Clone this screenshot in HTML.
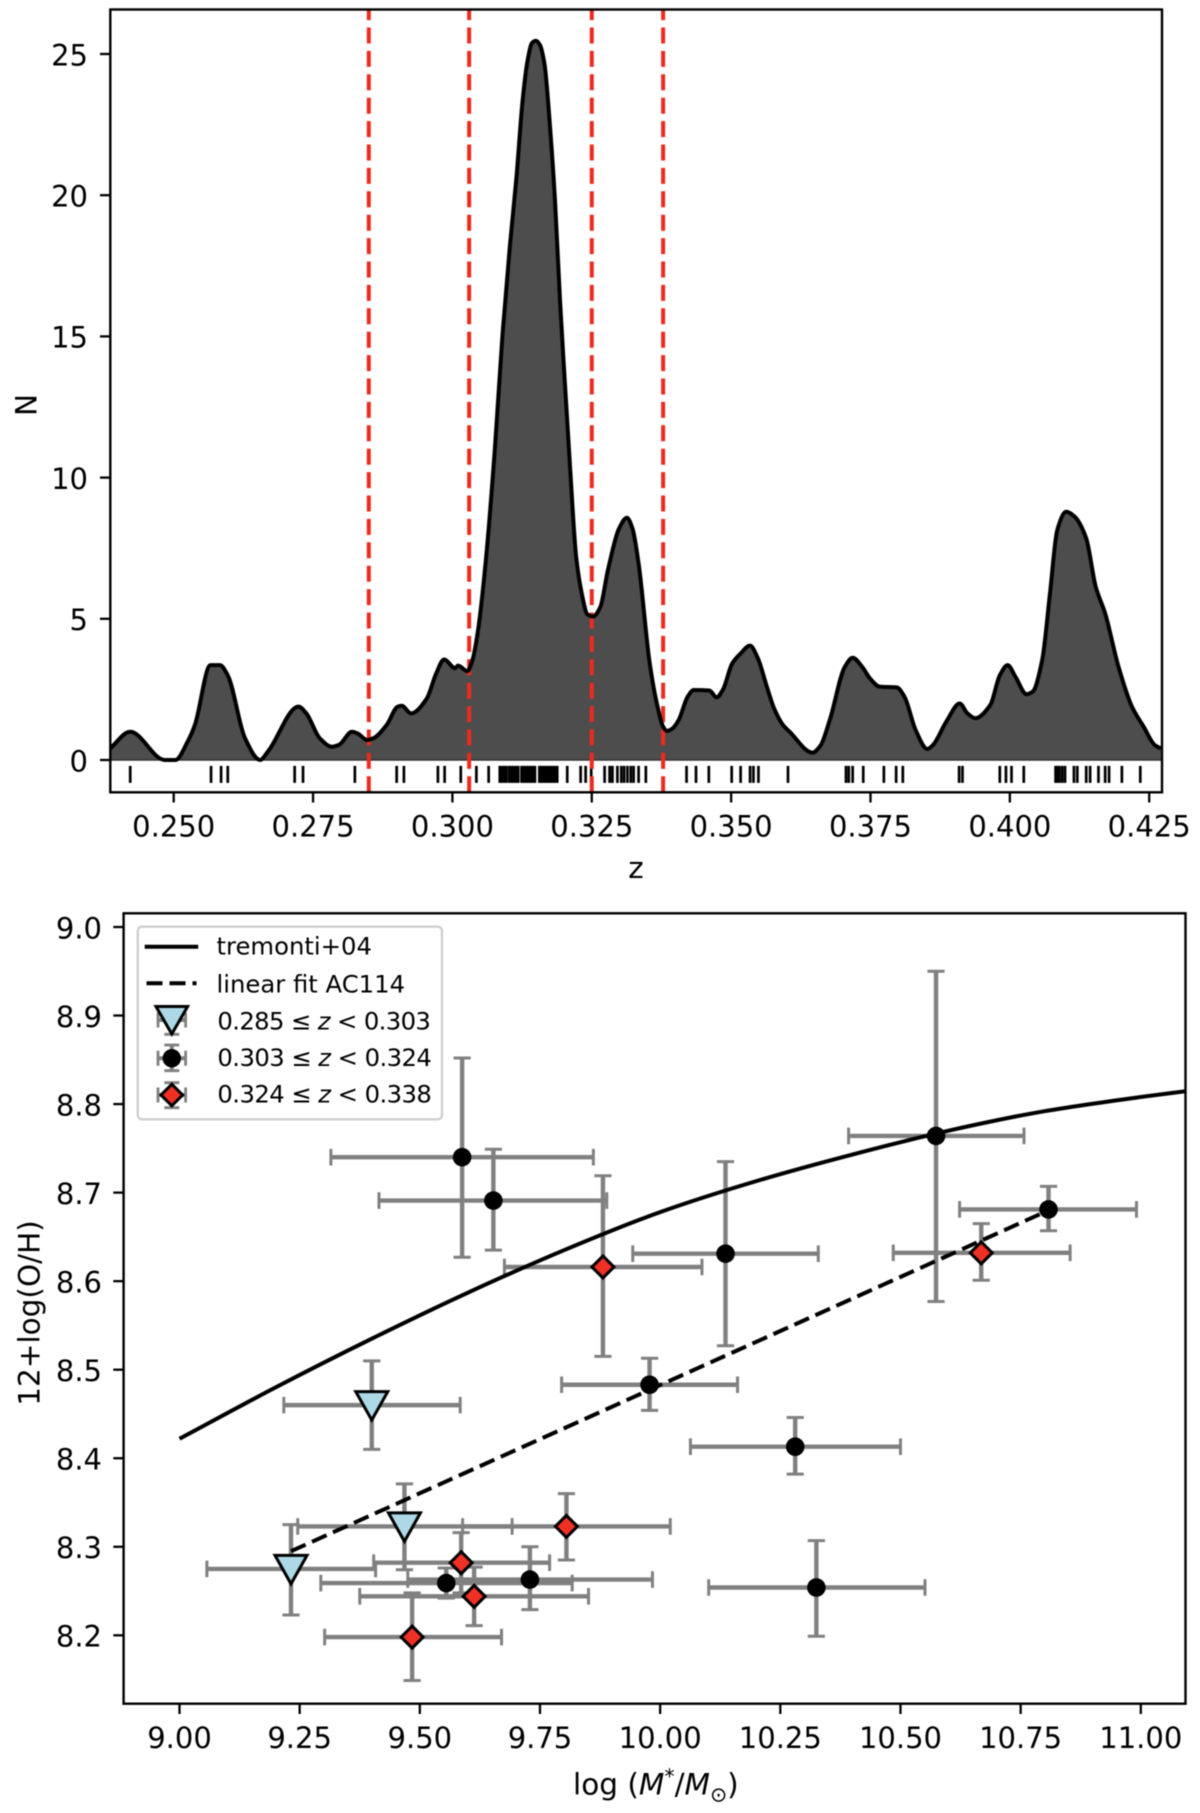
<!DOCTYPE html>
<html lang="en">
<head>
<meta charset="utf-8">
<title>Redshift distribution and mass-metallicity relation</title>
<style>
html,body{margin:0;padding:0;background:#fff;width:1200px;height:1813px;overflow:hidden}
svg{display:block;filter:blur(0.4px)}
text{font-family:"DejaVu Sans","Liberation Sans",sans-serif;fill:#000}
</style>
</head>
<body>
<svg id="figure" xmlns="http://www.w3.org/2000/svg" width="1200" height="1813" viewBox="0 0 1200 1813">
  <defs>
    <clipPath id="clip-top"><rect x="110.3" y="9.5" width="1051.7" height="782.8"/></clipPath>
    <clipPath id="clip-bottom"><rect x="123.6" y="913.3" width="1061.9" height="790.4"/></clipPath>
  </defs>
  <rect width="1200" height="1813" fill="#fff"/>

  <g id="top-panel">
    <g id="top-marks" clip-path="url(#clip-top)"></g>
    <rect x="110.3" y="9.5" width="1051.7" height="782.8" fill="none" stroke="#000" stroke-width="2.4"/>
    <g id="top-ticks"></g>
    <text x="636" y="878" text-anchor="middle" font-size="29.5">z</text>
    <text transform="translate(36.4 405) rotate(-90)" text-anchor="middle" font-size="29.5">N</text>
  </g>

  <g id="bottom-panel">
    <g id="bottom-marks" clip-path="url(#clip-bottom)"></g>
    <rect x="123.6" y="913.3" width="1061.9" height="790.4" fill="none" stroke="#000" stroke-width="2.4"/>
    <g id="bottom-ticks"></g>
    <text x="573" y="1794.7" font-size="29.5">log <tspan>(</tspan><tspan font-style="italic">M</tspan><tspan dy="-11" font-size="20.5">*</tspan><tspan dy="11">/</tspan><tspan font-style="italic">M</tspan><tspan dy="7" font-size="20.5">⊙</tspan><tspan dy="-7">)</tspan></text>
    <text transform="translate(39.5 1313) rotate(-90)" text-anchor="middle" font-size="29.5">12+log(O/H)</text>

    <g>
      <rect x="137.8" y="926.7" width="304.2" height="192.6" rx="4" ry="4" fill="#fff" fill-opacity="0.8" stroke="#cfcfcf" stroke-width="2.4"/>
      <line x1="144.7" y1="946.7" x2="198.2" y2="946.7" stroke="#000" stroke-width="4"/>
      <text x="216.5" y="954.3" font-size="24.3">tremonti+04</text>
      <line x1="146.5" y1="983.3" x2="196.5" y2="983.3" stroke="#000" stroke-width="4" stroke-dasharray="16 7"/>
      <text x="216.5" y="992.7" font-size="24.3">linear fit AC114</text>

      <g>
        <g fill="none" stroke="#808080">
          <path stroke-width="4" d="M158 1020H185.6M171.8 1006V1034.3"/>
          <path stroke-width="2.8" d="M158 1012.5V1027.5M185.6 1012.5V1027.5M164.3 1034.3H179.3"/>
        </g>
        <path d="M156 1006.5H187.6L171.8 1034Z" fill="#add8e6" stroke="#000" stroke-width="3"/>
        <text x="217.4" y="1029.3" font-size="24.3" textLength="213.5" lengthAdjust="spacing">0.285 ≤ <tspan font-style="italic">z</tspan> &lt; 0.303</text>
      </g>
      <g>
        <g fill="none" stroke="#808080">
          <path stroke-width="4" d="M158 1058.3H185.6M171.8 1045V1070.7"/>
          <path stroke-width="2.8" d="M158 1050.8V1065.8M185.6 1050.8V1065.8M164.3 1045H179.3M164.3 1070.7H179.3"/>
        </g>
        <circle cx="171.8" cy="1058.3" r="9.2" fill="#000"/>
        <text x="217.4" y="1066" font-size="24.3" textLength="214.5" lengthAdjust="spacing">0.303 ≤ <tspan font-style="italic">z</tspan> &lt; 0.324</text>
      </g>
      <g>
        <g fill="none" stroke="#808080">
          <path stroke-width="4" d="M158 1095H185.6M171.8 1082.7V1107.7"/>
          <path stroke-width="2.8" d="M158 1087.5V1102.5M185.6 1087.5V1102.5M164.3 1082.7H179.3M164.3 1107.7H179.3"/>
        </g>
        <path d="M171.8 1084.2L182.6 1095L171.8 1105.8L161 1095Z" fill="#ee3124" stroke="#000" stroke-width="3"/>
        <text x="217.4" y="1102.3" font-size="24.3" textLength="214.5" lengthAdjust="spacing">0.324 ≤ <tspan font-style="italic">z</tspan> &lt; 0.338</text>
      </g>
    </g>
  </g>
</svg>

<script>
// ---------- Redshift panel data ----------
const densityZ = [0.2386,0.2422,0.2484,0.2503,0.2525,0.2538,0.2566,0.2583,0.2597,0.2628,0.2655,0.2669,0.2724,0.2738,0.2762,0.2784,0.2796,0.2820,0.2830,0.2847,0.2858,0.2882,0.2902,0.2909,0.2926,0.2954,0.2971,0.2985,0.3005,0.3010,0.3027,0.3036,0.3046,0.3060,0.3076,0.3090,0.3103,0.3115,0.3126,0.3135,0.3143,0.3150,0.3157,0.3165,0.3176,0.3184,0.3193,0.3200,0.3211,0.3222,0.3232,0.3242,0.3252,0.3265,0.3279,0.3299,0.3313,0.3323,0.3334,0.3354,0.3368,0.3378,0.3385,0.3395,0.3406,0.3422,0.3433,0.3461,0.3474,0.3485,0.3502,0.3516,0.3534,0.3548,0.3564,0.3577,0.3593,0.3605,0.3646,0.3660,0.3677,0.3704,0.3718,0.3735,0.3749,0.3766,0.3797,0.3811,0.3831,0.3852,0.3862,0.3886,0.3910,0.3924,0.3938,0.3965,0.3982,0.3996,0.4010,0.4030,0.4041,0.4058,0.4072,0.4085,0.4101,0.4116,0.4137,0.4154,0.4171,0.4195,0.4219,0.4240,0.4260,0.4271];
const densityN = [0.41,1.0,0,0,0.65,1.24,3.36,3.36,3.0,0.77,0,0.3,1.89,1.65,0.77,0.47,0.53,1.0,0.94,0.71,0.77,1.24,1.89,1.92,1.65,2.18,3.07,3.56,3.25,3.34,3.15,3.54,4.6,7.08,10.98,15.1,18.18,20.66,23.37,24.79,25.4,25.47,25.32,24.67,22.19,19.83,16.29,13.93,10.39,7.2,5.9,5.16,5.08,5.4,6.73,8.2,8.58,8.2,6.96,3.42,1.89,1.18,1.03,1.12,1.42,2.24,2.48,2.46,2.22,2.48,3.42,3.75,4.05,3.6,2.6,1.83,1.24,1.0,0.26,0.5,1.42,3.3,3.62,3.3,2.89,2.6,2.57,2.24,1.06,0.39,0.53,1.36,2.0,1.65,1.48,1.95,3.0,3.36,2.95,2.33,2.42,3.54,5.9,8.14,8.79,8.62,7.85,6.14,5.19,3.3,1.89,1.18,0.53,0.41];
const rugZ = [0.2422,0.2567,0.2585,0.2597,0.2717,0.2732,0.2825,0.2900,0.2913,0.2974,0.2986,0.3015,0.3043,0.3065,0.3085,0.3089,0.3093,0.3097,0.3102,0.3106,0.3110,0.3114,0.3118,0.3124,0.3128,0.3132,0.3136,0.3140,0.3144,0.3148,0.3156,0.3160,0.3164,0.3168,0.3172,0.3176,0.3180,0.3184,0.3188,0.3206,0.3230,0.3239,0.3249,0.3273,0.3282,0.3287,0.3296,0.3303,0.3308,0.3314,0.3320,0.3325,0.3334,0.3347,0.3420,0.3437,0.3460,0.3501,0.3517,0.3534,0.3540,0.3549,0.3602,0.3706,0.3711,0.3718,0.3737,0.3774,0.3796,0.3808,0.3909,0.3915,0.3982,0.3993,0.4003,0.4025,0.4082,0.4085,0.4089,0.4094,0.4099,0.4115,0.4121,0.4137,0.4144,0.4159,0.4171,0.4178,0.4201,0.4234];
const zoneEdgesZ = [0.285,0.303,0.325,0.3378];
const zTicks = [0.25,0.275,0.30,0.325,0.35,0.375,0.40,0.425];
const zTickLabels = ['0.250','0.275','0.300','0.325','0.350','0.375','0.400','0.425'];
const nTicks = [0,5,10,15,20,25];
const nTickLabels = ['0','5','10','15','20','25'];

// ---------- Mass-metallicity panel data ----------
const massTicks = [9,9.25,9.5,9.75,10,10.25,10.5,10.75,11];
const massTickLabels = ['9.00','9.25','9.50','9.75','10.00','10.25','10.50','10.75','11.00'];
const ohTicks = [8.2,8.3,8.4,8.5,8.6,8.7,8.8,8.9,9.0];
const ohTickLabels = ['8.2','8.3','8.4','8.5','8.6','8.7','8.8','8.9','9.0'];
const tremontiMass = [9.0,9.2,9.4,9.6,9.8,10.0,10.2,10.4,10.6,10.8,11.0,11.1];
const tremontiOH = [8.422,8.480,8.535,8.587,8.635,8.678,8.713,8.743,8.770,8.792,8.808,8.815];
const fitMass = [9.232,10.808];
const fitOH = [8.295,8.680];

const lowMass = [9.40,9.468,9.232];
const lowOH = [8.46,8.323,8.275];
const lowMassMin = [9.217,9.246,9.057];
const lowMassMax = [9.584,9.692,9.408];
const lowOHMin = [8.41,8.274,8.223];
const lowOHMax = [8.51,8.371,8.325];

const midMass = [9.588,9.653,10.136,10.574,10.808,9.978,10.281,10.325,9.555,9.729];
const midOH = [8.740,8.691,8.631,8.764,8.681,8.483,8.413,8.254,8.259,8.263];
const midMassMin = [9.315,9.415,9.943,10.392,10.623,9.795,10.063,10.101,9.294,9.475];
const midMassMax = [9.861,9.889,10.329,10.757,10.991,10.161,10.5,10.551,9.817,9.984];
const midOHMin = [8.627,8.635,8.527,8.577,8.657,8.454,8.382,8.199,8.242,8.229];
const midOHMax = [8.852,8.749,8.735,8.95,8.707,8.513,8.446,8.307,8.276,8.30];

const highMass = [9.484,9.586,9.613,9.805,9.881,10.668];
const highOH = [8.198,8.282,8.244,8.323,8.616,8.632];
const highMassMin = [9.302,9.404,9.375,9.589,9.676,10.485];
const highMassMax = [9.67,9.77,9.851,10.021,10.087,10.853];
const highOHMin = [8.149,8.248,8.211,8.285,8.515,8.601];
const highOHMax = [8.248,8.316,8.277,8.36,8.719,8.665];

// ---------- Axis functions ----------
const xTop = z => 173.7 + (z - 0.25) * 5574.3;
const yTop = n => 760 - n * 28.24;
const xBottom = m => 179.5 + (m - 9) * 480.65;
const yBottom = o => 927 + (9 - o) * 885.4;

const SVG_NS = 'http://www.w3.org/2000/svg';
function svgEl(tag, attrs, parent) {
  const el = document.createElementNS(SVG_NS, tag);
  for (const key in attrs) el.setAttribute(key, attrs[key]);
  parent.appendChild(el);
  return el;
}
// Monotone cubic interpolation: no overshoot at peaks or below zero.
function smoothPath(xs, ys) {
  const n = xs.length;
  const h = [], s = [], t = new Array(n);
  for (let i = 0; i < n - 1; i++) {
    h[i] = xs[i + 1] - xs[i];
    s[i] = (ys[i + 1] - ys[i]) / h[i];
  }
  t[0] = s[0];
  t[n - 1] = s[n - 2];
  for (let i = 1; i < n - 1; i++) {
    if (s[i - 1] * s[i] <= 0) {
      t[i] = 0;
    } else {
      const w1 = 2 * h[i] + h[i - 1], w2 = h[i] + 2 * h[i - 1];
      t[i] = (w1 + w2) / (w1 / s[i - 1] + w2 / s[i]);
    }
  }
  let d = 'M' + xs[0].toFixed(2) + ' ' + ys[0].toFixed(2);
  for (let i = 0; i < n - 1; i++) {
    const c1x = xs[i] + h[i] / 3, c1y = ys[i] + t[i] * h[i] / 3;
    const c2x = xs[i + 1] - h[i] / 3, c2y = ys[i + 1] - t[i + 1] * h[i] / 3;
    d += 'C' + c1x.toFixed(2) + ' ' + c1y.toFixed(2) + ' ' + c2x.toFixed(2) + ' ' + c2y.toFixed(2) + ' ' + xs[i + 1].toFixed(2) + ' ' + ys[i + 1].toFixed(2);
  }
  return d;
}

// ---------- Redshift panel ----------
const topMarks = document.getElementById('top-marks');
const topTicks = document.getElementById('top-ticks');
const densityXs = densityZ.map(xTop);
const densityYs = densityN.map(yTop);
const densityLine = smoothPath(densityXs, densityYs);

const densityFill = svgEl('path', {
  d: densityLine + 'L' + densityXs[densityXs.length - 1].toFixed(2) + ' ' + yTop(0) + 'L' + densityXs[0].toFixed(2) + ' ' + yTop(0) + 'Z',
  fill: '#4d4d4d', stroke: 'none'
}, topMarks);



const zeroLine = svgEl('line', { x1: 110.3, x2: 1162, y1: yTop(0), y2: yTop(0), stroke: '#333', 'stroke-width': 1.4 }, topMarks);



rugZ.forEach(z => {
  const rug = svgEl('line', { x1: xTop(z), x2: xTop(z), y1: yTop(-0.21), y2: yTop(-0.81), stroke: '#000', 'stroke-width': 2.7 }, topMarks);
  
  
});

zoneEdgesZ.forEach(z => {
  const edge = svgEl('line', { x1: xTop(z), x2: xTop(z), y1: 792.3, y2: 9.5, stroke: '#ee2a1e', 'stroke-width': 4, 'stroke-dasharray': '16 7.4' }, topMarks);
  
  
});

const densityStroke = svgEl('path', { d: densityLine, fill: 'none', stroke: '#000', 'stroke-width': 4, 'stroke-linejoin': 'round' }, topMarks);



zTicks.forEach((z, i) => {
  const tick = svgEl('line', { x1: xTop(z), x2: xTop(z), y1: 792.3, y2: 802.5, stroke: '#000', 'stroke-width': 2.3 }, topTicks);
  
  
  const label = svgEl('text', { x: xTop(z), y: 836.7, 'text-anchor': 'middle', 'font-size': 29 }, topTicks);
  label.textContent = zTickLabels[i];
  
  
});
nTicks.forEach((n, i) => {
  const tick = svgEl('line', { x1: 100, x2: 110.3, y1: yTop(n), y2: yTop(n), stroke: '#000', 'stroke-width': 2.3 }, topTicks);
  
  
  const label = svgEl('text', { x: 88, y: yTop(n) + 11.3, 'text-anchor': 'end', 'font-size': 29 }, topTicks);
  label.textContent = nTickLabels[i];
  
  
});

// ---------- Mass-metallicity panel ----------
const bottomMarks = document.getElementById('bottom-marks');
const bottomTicks = document.getElementById('bottom-ticks');
const barLayer = svgEl('g', {}, bottomMarks);


const lineLayer = svgEl('g', {}, bottomMarks);


const markerLayer = svgEl('g', {}, bottomMarks);



function drawErrorBar(m, o, mMin, mMax, oMin, oMax, seriesName) {
  const group = svgEl('g', { fill: 'none', stroke: '#808080' }, barLayer);
  
  
  const x = xBottom(m), y = yBottom(o);
  const x0 = xBottom(mMin), x1 = xBottom(mMax), y0 = yBottom(oMin), y1 = yBottom(oMax);
  const stems = svgEl('path', { d: 'M' + x0 + ' ' + y + 'H' + x1 + 'M' + x + ' ' + y0 + 'V' + y1, 'stroke-width': 4.4 }, group);
  
  
  const caps = svgEl('path', {
    d: 'M' + x0 + ' ' + (y - 8.3) + 'V' + (y + 8.3) + 'M' + x1 + ' ' + (y - 8.3) + 'V' + (y + 8.3) +
       'M' + (x - 8.6) + ' ' + y0 + 'H' + (x + 8.6) + 'M' + (x - 8.6) + ' ' + y1 + 'H' + (x + 8.6),
    'stroke-width': 3
  }, group);
  
  
}

lowMass.forEach((m, i) => drawErrorBar(m, lowOH[i], lowMassMin[i], lowMassMax[i], lowOHMin[i], lowOHMax[i], 'low-redshift'));
midMass.forEach((m, i) => drawErrorBar(m, midOH[i], midMassMin[i], midMassMax[i], midOHMin[i], midOHMax[i], 'mid-redshift'));
highMass.forEach((m, i) => drawErrorBar(m, highOH[i], highMassMin[i], highMassMax[i], highOHMin[i], highOHMax[i], 'high-redshift'));

const tremontiLine = svgEl('path', { d: smoothPath(tremontiMass.map(xBottom), tremontiOH.map(yBottom)), fill: 'none', stroke: '#000', 'stroke-width': 4 }, lineLayer);



const fitLine = svgEl('line', { x1: xBottom(fitMass[0]), y1: yBottom(fitOH[0]), x2: xBottom(fitMass[1]), y2: yBottom(fitOH[1]), stroke: '#000', 'stroke-width': 4, 'stroke-dasharray': '16 7' }, lineLayer);



lowMass.forEach((m, i) => {
  const x = xBottom(m), y = yBottom(lowOH[i]);
  const tri = svgEl('path', { d: 'M' + (x - 16) + ' ' + (y - 13.5) + 'H' + (x + 16) + 'L' + x + ' ' + (y + 15) + 'Z', fill: '#add8e6', stroke: '#000', 'stroke-width': 3 }, markerLayer);
  
  
});
midMass.forEach((m, i) => {
  const dot = svgEl('circle', { cx: xBottom(m), cy: yBottom(midOH[i]), r: 9.3, fill: '#000' }, markerLayer);
  
  
});
highMass.forEach((m, i) => {
  const x = xBottom(m), y = yBottom(highOH[i]);
  const dia = svgEl('path', { d: 'M' + x + ' ' + (y - 11) + 'L' + (x + 11) + ' ' + y + 'L' + x + ' ' + (y + 11) + 'L' + (x - 11) + ' ' + y + 'Z', fill: '#ee3124', stroke: '#000', 'stroke-width': 3 }, markerLayer);
  
  
});

massTicks.forEach((m, i) => {
  const tick = svgEl('line', { x1: xBottom(m), x2: xBottom(m), y1: 1703.7, y2: 1714, stroke: '#000', 'stroke-width': 2.3 }, bottomTicks);
  
  
  const label = svgEl('text', { x: xBottom(m), y: 1748, 'text-anchor': 'middle', 'font-size': 29 }, bottomTicks);
  label.textContent = massTickLabels[i];
  
  
});
ohTicks.forEach((o, i) => {
  const tick = svgEl('line', { x1: 113.3, x2: 123.6, y1: yBottom(o), y2: yBottom(o), stroke: '#000', 'stroke-width': 2.3 }, bottomTicks);
  
  
  const label = svgEl('text', { x: 102, y: yBottom(o) + 11.3, 'text-anchor': 'end', 'font-size': 29 }, bottomTicks);
  label.textContent = ohTickLabels[i];
  
  
});
</script>
</body>
</html>
